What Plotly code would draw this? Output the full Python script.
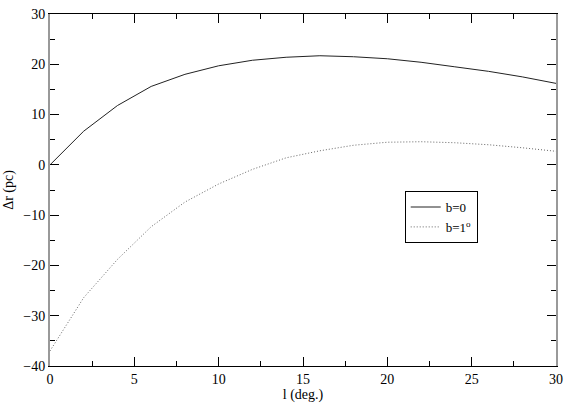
import plotly.graph_objects as go

l_deg = [0, 2, 4, 6, 8, 10, 12, 14, 16, 18, 20, 22, 24, 26, 28, 30]
dr_b0 = [0.0, 6.7, 11.8, 15.6, 18.0, 19.7, 20.8, 21.4, 21.7, 21.5, 21.1, 20.4, 19.5, 18.6, 17.5, 16.2]
dr_b1 = [-37.0, -26.4, -18.8, -12.3, -7.4, -3.8, -0.9, 1.4, 2.8, 3.9, 4.5, 4.6, 4.4, 4.0, 3.4, 2.7]

font = "'Liberation Serif', 'Times New Roman', serif"

fig = go.Figure()
fig.add_trace(go.Scatter(x=l_deg, y=dr_b0, mode="lines", name="b=0",
                         line=dict(color="#222222", width=1)))
fig.add_trace(go.Scatter(x=l_deg, y=dr_b1, mode="lines", name="b=1<sup>o</sup>",
                         line=dict(color="#666666", width=1, dash="1px,2px")))

fig.update_layout(
    width=570, height=405,
    margin=dict(l=49, r=7, t=10, b=39),
    paper_bgcolor="white", plot_bgcolor="white",
    font=dict(family=font, size=14, color="black"),
    showlegend=True,
    legend=dict(x=0.701, y=0.497, xanchor="left", yanchor="top",
                bordercolor="black", borderwidth=1, bgcolor="white",
                font=dict(family=font, size=13), tracegroupgap=0,
                itemwidth=30),
)
fig.update_xaxes(range=[0, 30], tickvals=[0, 5, 10, 15, 20, 25, 30],
                 ticks="inside", ticklen=9, tickwidth=1, tickcolor="black",
                 minor=dict(ticks="inside", ticklen=5, dtick=2.5, tickcolor="black"),
                 showline=True, linecolor="black", linewidth=1, mirror="allticks",
                 showgrid=False, zeroline=False,
                 title=dict(text="l (deg.)", standoff=0, font=dict(family=font, size=14)))
fig.update_yaxes(range=[-40, 30], tickvals=[-40, -30, -20, -10, 0, 10, 20, 30],
                 ticks="inside", ticklen=9, tickwidth=1, tickcolor="black",
                 minor=dict(ticks="inside", ticklen=5, dtick=5, tickcolor="black"),
                 showline=True, linecolor="#999999", linewidth=2, mirror="allticks",
                 showgrid=False, zeroline=False,
                 title=dict(text="Δr (pc)", standoff=6, font=dict(family=font, size=14)))

fig.write_html("out.html", config={"displayModeBar": False},
               post_script="document.body.style.margin='0';")
